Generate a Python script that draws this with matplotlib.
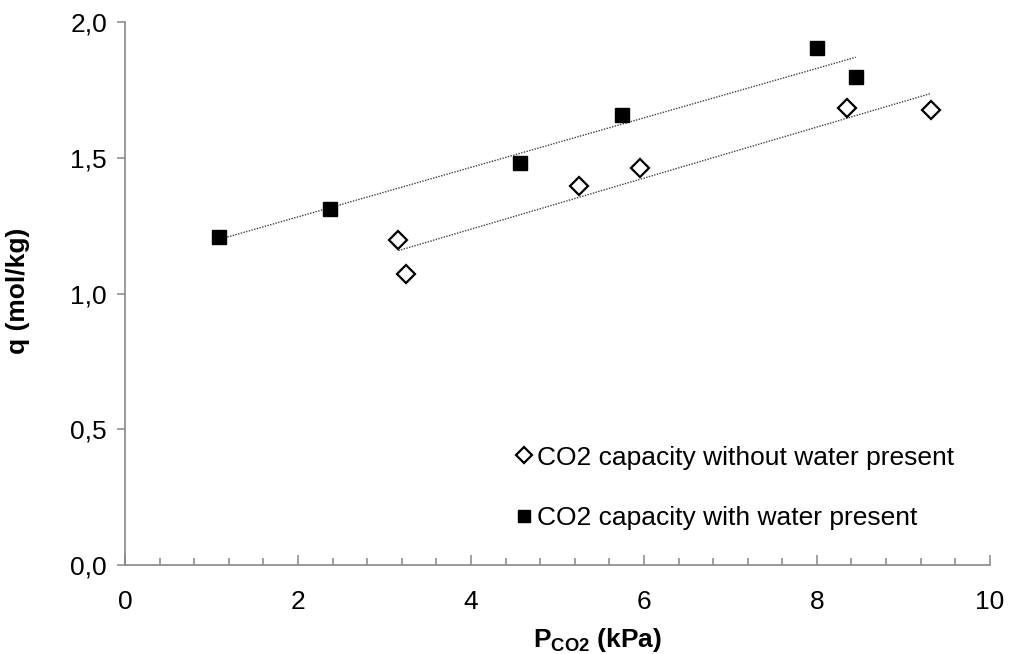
import numpy as np
import matplotlib
matplotlib.use("Agg")
import matplotlib.pyplot as plt
from matplotlib.ticker import MultipleLocator

plt.rcParams['font.family'] = ['Liberation Sans', 'DejaVu Sans']
plt.rcParams['mathtext.fontset'] = 'custom'
plt.rcParams['mathtext.rm'] = 'Liberation Sans'
plt.rcParams['mathtext.bf'] = 'Liberation Sans:bold'

# data
p_dry = [3.16, 3.25, 5.25, 5.95, 8.35, 9.32]
q_dry = [1.197, 1.072, 1.396, 1.462, 1.683, 1.676]
p_wet = [1.09, 2.37, 4.57, 5.75, 8.00, 8.45]
q_wet = [1.208, 1.311, 1.480, 1.657, 1.904, 1.800]
label_dry = "CO2 capacity without water present"
label_wet = "CO2 capacity with water present"
xticks = [0, 2, 4, 6, 8, 10]
yticks = [0.0, 0.5, 1.0, 1.5, 2.0]
ytick_labels = ["0,0", "0,5", "1,0", "1,5", "2,0"]

FS = 19

fig = plt.figure(figsize=(10.09, 6.54), dpi=100)
ax = fig.add_axes([0.124, 0.136, 0.857, 0.830])

# trendlines
for px, qy in ((p_wet, q_wet), (p_dry, q_dry)):
    k, b = np.polyfit(px, qy, 1)
    xs = np.array([min(px), max(px)])
    ax.plot(xs, k * xs + b, color='#404040', lw=1.0, ls=(0, (1, 1)), zorder=2)

ax.plot(p_dry, q_dry, ls='none', marker='D', ms=9.5, mfc='white', mec='black',
        mew=1.6, label=label_dry, zorder=3)
ax.plot(p_wet, q_wet, ls='none', marker='s', ms=10, mfc='black', mec='black',
        label=label_wet, zorder=3)

ax.set_xlim(0, 10)
ax.set_ylim(0, 2.0)
ax.set_xticks(xticks)
ax.xaxis.set_minor_locator(MultipleLocator(0.4))
ax.set_yticks(yticks)
ax.set_yticklabels(ytick_labels)

for s in ('top', 'right'):
    ax.spines[s].set_visible(False)
for s in ('left', 'bottom'):
    ax.spines[s].set_color('#868686')
    ax.spines[s].set_linewidth(1.2)

ax.tick_params(axis='x', which='major', direction='in', length=7, color='#868686',
               width=1.1, labelsize=FS, pad=18)
ax.tick_params(axis='x', which='minor', direction='in', length=5, color='#868686', width=1.1)
ax.tick_params(axis='y', which='major', direction='out', length=6, color='#868686',
               width=1.1, labelsize=FS, pad=7)

ax.set_xlabel(r'$\mathbf{P_{CO2}}$ (kPa)', fontsize=FS, fontweight='bold')
ax.xaxis.set_label_coords(0.546, -0.112)
ax.set_ylabel('q (mol/kg)', fontsize=FS, fontweight='bold')
ax.yaxis.set_label_coords(-0.11, 0.506)

leg = ax.legend(loc='upper left', bbox_to_anchor=(0.454, 0.22), frameon=False,
                fontsize=FS, handlelength=0.5, handletextpad=0.25, markerscale=0.85,
                labelspacing=1.38, borderpad=0, borderaxespad=0)

fig.savefig('out.png', dpi=100)
